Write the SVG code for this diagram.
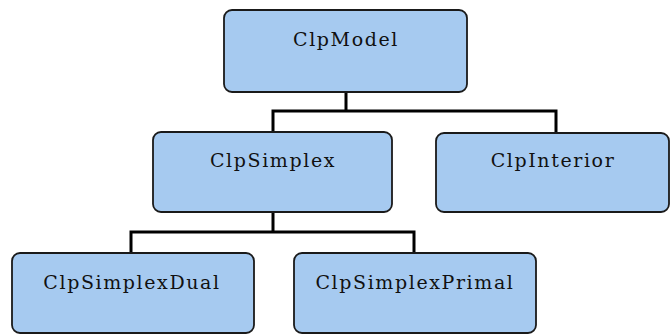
<svg xmlns="http://www.w3.org/2000/svg" width="671" height="334" viewBox="0 0 671 334">
  <style>
    .box { fill: #a6caf0; stroke: #1a1a1a; stroke-width: 1.8; }
    .label { font-family: 'DejaVu Serif', 'Liberation Serif', serif; font-size: 19px; letter-spacing: 1.6px; fill: #111; text-anchor: middle; }
    .wire { fill: none; stroke: #000; stroke-width: 3; stroke-linejoin: miter; }
  </style>
  <rect width="671" height="334" fill="#fff"/>

  <!-- tree connectors -->
  <g id="connectors">
    <path class="wire" d="M346,92 V111 M273,132 V111 H556 V133"/>
    <path class="wire" d="M273,212 V232 M131,253 V232 H414 V253"/>
  </g>

  <g id="ClpModel">
    <rect class="box" x="224" y="10" width="243" height="82" rx="8"/>
    <text class="label" x="346" y="46">ClpModel</text>
  </g>

  <g id="ClpSimplex">
    <rect class="box" x="153" y="132" width="239" height="80" rx="8"/>
    <text class="label" x="273" y="167">ClpSimplex</text>
  </g>

  <g id="ClpInterior">
    <rect class="box" x="436" y="133" width="233" height="79" rx="8"/>
    <text class="label" x="553" y="167">ClpInterior</text>
  </g>

  <g id="ClpSimplexDual">
    <rect class="box" x="12" y="253" width="242" height="80" rx="8"/>
    <text class="label" x="132" y="289">ClpSimplexDual</text>
  </g>

  <g id="ClpSimplexPrimal">
    <rect class="box" x="294" y="253" width="242" height="80" rx="8"/>
    <text class="label" x="415" y="289">ClpSimplexPrimal</text>
  </g>
</svg>
